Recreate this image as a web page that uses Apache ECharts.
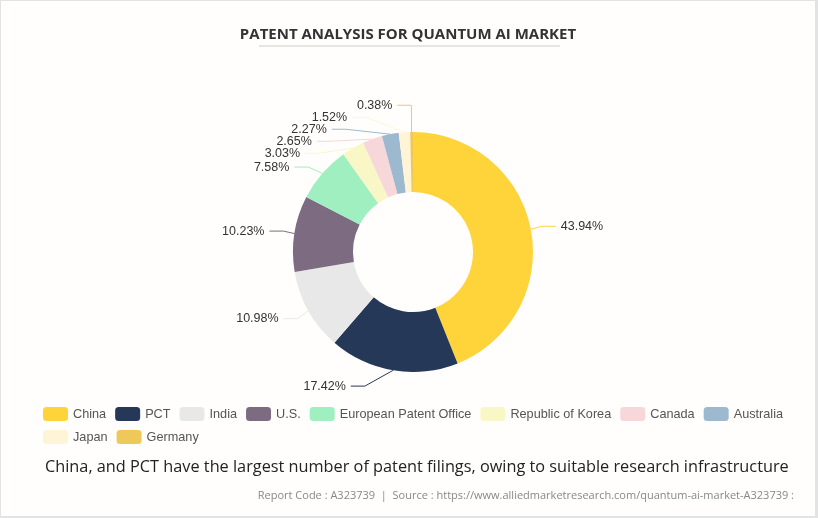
<!DOCTYPE html>
<html lang="en">
  <head>
    <meta charset="UTF-8">
    <title>Patent Analysis for Quantum AI Market</title>
    <style>
      html, body {
        margin: 0;
        padding: 0;
        background: #ffffff;
      }
      .chart {
        width: 818px;
        height: 518px;
        box-sizing: border-box;
        border: 1px solid #e3e3e3;
        border-right-width: 3px;
        border-bottom-width: 2px;
        background: #fffefc;
      }
    </style>
  </head>
  <body>
    <div id="chart" class="chart"></div>

    <script src="https://cdn.jsdelivr.net/npm/echarts@6/dist/echarts.min.js"></script>
    <script type="text/javascript">
      // data
      var categories = ['China', 'PCT', 'India', 'U.S.', 'European Patent Office', 'Republic of Korea', 'Canada', 'Australia', 'Japan', 'Germany'];
      var shares = [43.94, 17.42, 10.98, 10.23, 7.58, 3.03, 2.65, 2.27, 1.52, 0.38];
      var colors = ['#ffd43b', '#253858', '#e8e8e8', '#7d6b82', '#a0efc0', '#f8f7c5', '#f7d7da', '#9cb9cf', '#fff5d6', '#eec95a'];

      // pie geometry
      var pieCenter = [412, 251];
      var pieRadius = [60, 120];
      var lineLen = 16, lineLen2 = 14, labelGap = 5, labelH = 12;

      var myChart = echarts.init(document.getElementById('chart'));

      var pieData = categories.map(function(name, i) {
        return { name: name, value: shares[i], itemStyle: { color: colors[i] } };
      });

      // first pass: remember where echarts puts the labels
      var natural = [];
      function recordLayout(params) {
        natural[params.dataIndex] = {
          rect: params.labelRect,
          points: params.labelLinePoints
        };
      }

      var option = {
        backgroundColor: 'transparent',
        animation: false,
        color: colors,
        title: [{
            text: 'PATENT ANALYSIS FOR QUANTUM AI MARKET',
            left: 'center',
            top: 21,
            textStyle: {
              fontFamily: 'Open Sans',
              fontWeight: 'bold',
              fontSize: 15,
              color: '#333'
            }
          },
          {
            text: 'China, and PCT have the largest number of patent filings, owing to suitable research infrastructure',
            left: 39,
            top: 453,
            textStyle: {
              fontFamily: 'Open Sans',
              fontWeight: 'normal',
              fontSize: 16.3,
              color: '#222'
            }
          },
          {
            text: 'Report Code : A323739  |  Source : https://www.alliedmarketresearch.com/quantum-ai-market-A323739 :',
            right: 16,
            top: 484,
            textStyle: {
              fontFamily: 'Open Sans',
              fontWeight: 'normal',
              fontSize: 11,
              color: '#888'
            }
          }
        ],
        graphic: [{
          type: 'line',
          shape: { x1: 258, y1: 45, x2: 559, y2: 45 },
          style: { stroke: '#cccccc', lineWidth: 1 }
        }],
        legend: {
          left: 37,
          top: 401,
          width: 760,
          itemWidth: 25,
          itemHeight: 14,
          itemGap: 9,
          icon: 'roundRect',
          textStyle: {
            fontFamily: 'Liberation Sans',
            fontSize: 12.7,
            color: '#555'
          },
          data: categories
        },
        series: [{
          name: 'Patents',
          type: 'pie',
          center: pieCenter,
          radius: pieRadius,
          startAngle: 90,
          clockwise: true,
          avoidLabelOverlap: false,
          label: {
            show: true,
            formatter: '{c}%',
            fontFamily: 'Liberation Sans',
            fontSize: 12.5,
            color: '#333'
          },
          labelLine: {
            show: true,
            length: lineLen,
            length2: lineLen2,
            lineStyle: { width: 1 }
          },
          labelLayout: recordLayout,
          data: pieData
        }]
      };

      myChart.setOption(option);

      // second pass: stack crowded labels (shift down, then half back up)
      // and slide them along a circle, the way older echarts did
      var adjusted = [];
      (function() {
        var cx = pieCenter[0], cy = pieCenter[1];
        var r = pieRadius[1];
        var viewTop = 0, viewHeight = myChart.getHeight();
        var sides = { left: [], right: [] };
        natural.forEach(function(n, i) {
          if (!n || !n.points) return;
          var p = n.points;
          var dir = p[2][0] < p[0][0] ? -1 : 1;
          var item = {
            index: i, dir: dir, y: p[1][1],
            x: p[2][0] + dir * labelGap,
            p0: p[0], dist: Math.abs(p[1][0] - p[2][0])
          };
          sides[dir < 0 ? 'left' : 'right'].push(item);
        });

        function adjustSide(list, dir) {
          list.sort(function(a, b) { return a.y - b.y; });
          function shiftDown(start, end, delta) {
            for (var j = start; j < end; j++) {
              if (list[j].y + delta > viewTop + viewHeight) break;
              list[j].y += delta;
              if (j > start && j + 1 < end && list[j + 1].y > list[j].y + labelH) {
                shiftUp(j, delta / 2);
                return;
              }
            }
            shiftUp(end - 1, delta / 2);
          }
          function shiftUp(end, delta) {
            for (var j = end; j >= 0; j--) {
              if (list[j].y - delta < viewTop) break;
              list[j].y -= delta;
              if (j > 0 && list[j].y > list[j - 1].y + labelH) break;
            }
          }
          var lastY = 0, len = list.length;
          for (var i = 0; i < len; i++) {
            var delta = list[i].y - lastY;
            if (delta < 0) shiftDown(i, len, -delta);
            lastY = list[i].y + labelH;
          }
          var upList = [], downList = [];
          list.forEach(function(it) { (it.y >= cy ? downList : upList).push(it); });
          function changeX(sub, isDown) {
            var lastDX = isDown ? Number.MAX_VALUE : 0;
            sub.forEach(function(it) {
              var dy = Math.abs(it.y - cy);
              var R = r + lineLen + lineLen2;
              var dx = dy < r + lineLen ? Math.sqrt(R * R - dy * dy) : Math.abs(it.x - cx);
              if (isDown && dx >= lastDX) dx = lastDX - 10;
              if (!isDown && dx <= lastDX) dx = lastDX + 10;
              it.x = cx + dx * dir;
              lastDX = dx;
            });
          }
          changeX(upList, false);
          changeX(downList, true);
          list.forEach(function(it) {
            var x2 = it.x - dir * labelGap;
            var x1 = x2 - dir * it.dist;
            adjusted[it.index] = {
              x: it.x,
              y: it.y,
              align: dir < 0 ? 'right' : 'left',
              verticalAlign: 'middle',
              labelLinePoints: [it.p0, [x1, it.y], [x2, it.y]]
            };
          });
        }
        adjustSide(sides.left, -1);
        adjustSide(sides.right, 1);
      })();

      myChart.setOption({
        series: [{
          labelLayout: function(params) {
            return adjusted[params.dataIndex] || {};
          }
        }]
      });
    </script>
  </body>
</html>
